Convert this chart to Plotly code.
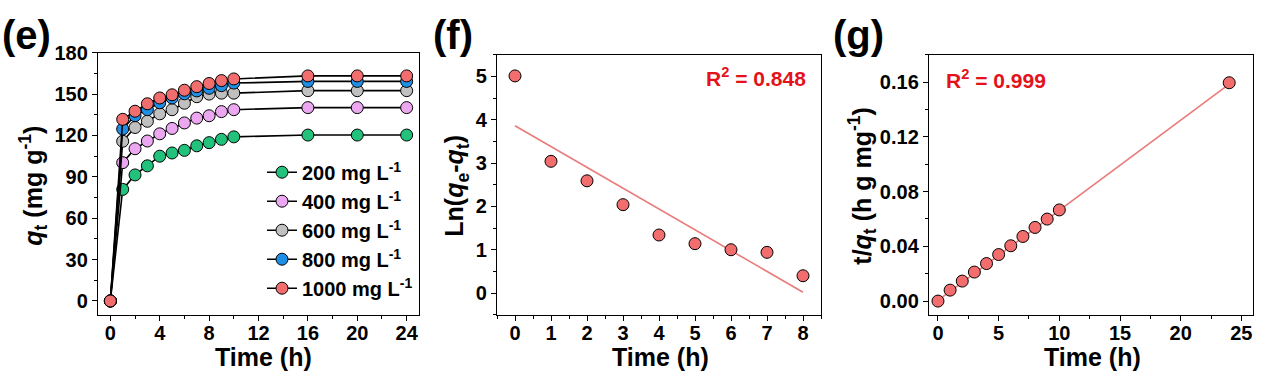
import plotly.graph_objects as go

# ---------------- data ----------------
time_e = [0, 1, 2, 3, 4, 5, 6, 7, 8, 9, 10, 16, 20, 24]
series_names = ["200 mg L<sup>-1</sup>", "400 mg L<sup>-1</sup>", "600 mg L<sup>-1</sup>",
                "800 mg L<sup>-1</sup>", "1000 mg L<sup>-1</sup>"]
q_200 = [0, 80.9, 91.4, 98.0, 105.0, 107.3, 109.2, 112.5, 114.8, 117.2, 119.0, 120.3, 120.3, 120.3]
q_400 = [0, 100.3, 110.4, 116.0, 121.2, 125.1, 129.1, 132.6, 134.3, 137.3, 138.7, 140.2, 140.2, 140.2]
q_600 = [0, 115.8, 125.8, 130.3, 135.7, 138.7, 143.4, 148.1, 150.0, 150.7, 150.7, 152.5, 152.5, 152.5]
q_800 = [0, 124.7, 134.3, 138.7, 143.7, 147.2, 150.2, 152.3, 154.2, 156.1, 158.0, 159.2, 159.2, 159.2]
q_1000 = [0, 131.7, 137.6, 143.0, 147.2, 149.5, 152.8, 155.4, 157.7, 159.8, 161.0, 163.2, 163.2, 163.2]
series_colors = ["#22C27C", "#EBA8F0", "#C0C0C0", "#1F8FE6", "#F26D6D"]

time_f = [0, 1, 2, 3, 4, 5, 6, 7, 8]
ln_qe_qt = [5.01, 3.04, 2.59, 2.04, 1.34, 1.14, 1.0, 0.94, 0.40]
fit_f_x = [0, 8]
fit_f_y = [3.86, 0.02]

time_g = [0, 1, 2, 3, 4, 5, 6, 7, 8, 9, 10, 24]
t_over_qt = [0.0, 0.0080, 0.0146, 0.0212, 0.0274, 0.0340, 0.0404, 0.0472, 0.0538, 0.0599, 0.0666, 0.1595]
fit_g_x = [0, 24]
fit_g_y = [0.0005, 0.1585]

FONT = "Arial, Liberation Sans, sans-serif"
RED_TXT = "#E3121B"
PT_RED = "#F26D6D"
FIT_RED = "#E97B7B"

fig = go.Figure()

# ---------------- panel (e) ----------------
for name, vals, col in zip(series_names, [q_200, q_400, q_600, q_800, q_1000], series_colors):
    fig.add_trace(go.Scatter(
        x=time_e, y=vals, name=name, mode="lines+markers",
        line=dict(color="black", width=1.6),
        marker=dict(size=12, color=col, line=dict(color="black", width=1)),
        xaxis="x", yaxis="y", showlegend=True))

# ---------------- panel (f) ----------------
fig.add_trace(go.Scatter(x=fit_f_x, y=fit_f_y, mode="lines",
                         line=dict(color=FIT_RED, width=1.6),
                         xaxis="x2", yaxis="y2", showlegend=False))
fig.add_trace(go.Scatter(x=time_f, y=ln_qe_qt, mode="markers",
                         marker=dict(size=12, color=PT_RED, line=dict(color="black", width=1)),
                         xaxis="x2", yaxis="y2", showlegend=False))

# ---------------- panel (g) ----------------
fig.add_trace(go.Scatter(x=fit_g_x, y=fit_g_y, mode="lines",
                         line=dict(color=FIT_RED, width=1.6),
                         xaxis="x3", yaxis="y3", showlegend=False))
fig.add_trace(go.Scatter(x=time_g, y=t_over_qt, mode="markers",
                         marker=dict(size=12, color=PT_RED, line=dict(color="black", width=1)),
                         xaxis="x3", yaxis="y3", showlegend=False))

W, H = 1270, 373
def px_x(v):
    return v / W
def px_y(v):
    return 1 - v / H

tickfont = dict(family=FONT, size=20, color="black", weight="bold")

def axis(domain, rng, dtick, mdtick, anchor, fmt=None, standoff=0):
    d = dict(domain=domain, range=rng, dtick=dtick, tick0=0, anchor=anchor,
             showline=True, linecolor="black", linewidth=1.4, mirror=True,
             ticks="outside", ticklen=5, tickwidth=1.4, tickcolor="black",
             minor=dict(ticks="outside", ticklen=3, tickwidth=1.2, tickcolor="black",
                        dtick=mdtick, tick0=0, showgrid=False),
             showgrid=False, zeroline=False, tickfont=tickfont, fixedrange=True,
             ticklabelstandoff=standoff)
    if fmt:
        d["tickformat"] = fmt
    return d

ydom_e = [px_y(313), px_y(43)]
ydom_fg = [px_y(313), px_y(45)]

fig.update_layout(
    width=W, height=H,
    margin=dict(l=0, r=0, t=0, b=0),
    paper_bgcolor="white", plot_bgcolor="white",
    font=dict(family=FONT, color="black"),
    xaxis=axis([px_x(98), px_x(419)], [-1, 25], 4, 2, "y", standoff=-5),
    yaxis=axis(ydom_e, [-10, 180], 30, 15, "x"),
    xaxis2=axis([px_x(497), px_x(821)], [-0.5, 8.5], 1, 0.5, "y2", standoff=-5),
    yaxis2=axis(ydom_fg, [-0.5, 5.5], 1, 0.5, "x2"),
    xaxis3=axis([px_x(929), px_x(1253)], [-0.74, 25.96], 5, 2.5, "y3", standoff=-5),
    yaxis3=axis(ydom_fg, [-0.01, 0.18], 0.04, 0.02, "x3", fmt=".2f"),
    legend=dict(x=px_x(262), y=px_y(146), xanchor="left", yanchor="top",
                bgcolor="rgba(0,0,0,0)", borderwidth=0,
                font=dict(family=FONT, size=20, color="black", weight="bold"),
                tracegroupgap=0, itemwidth=30),
    showlegend=True,
)

ann = []
def text(x, y, s, size, angle=0, color="black", xanchor="center"):
    ann.append(dict(x=px_x(x), y=px_y(y), xref="paper", yref="paper", text="<b>" + s + "</b>",
                    showarrow=False, textangle=angle, xanchor=xanchor, yanchor="middle",
                    font=dict(family=FONT, size=size, color=color)))

# panel labels
text(0, 25, "(e)", 40, xanchor="left")
text(431, 25, "(f)", 40, xanchor="left")
text(831, 25, "(g)", 40, xanchor="left")
# x titles
text(263, 356, "Time (h)", 25)
text(660, 356, "Time (h)", 25)
text(1092, 356, "Time (h)", 25)
# y titles
text(33, 180, "<i>q</i><sub>t</sub> (mg g<sup>-1</sup>)", 25, angle=-90)
text(456, 180, "Ln(<i>q</i><sub>e</sub>-<i>q</i><sub>t</sub>)", 25, angle=-90)
text(862, 180, "t/<i>q</i><sub>t</sub> (h g mg<sup>-1</sup>)", 25, angle=-90)
# R^2
text(808, 68, "R<sup>2</sup> = 0.848", 21, color=RED_TXT, xanchor="right")
text(944, 70, "R<sup>2</sup> = 0.999", 21, color=RED_TXT, xanchor="left")

fig.update_layout(annotations=ann)

fig.write_html("out.html", config={"displayModeBar": False},
               post_script="document.body.style.margin='0';document.body.style.overflow='hidden';")
